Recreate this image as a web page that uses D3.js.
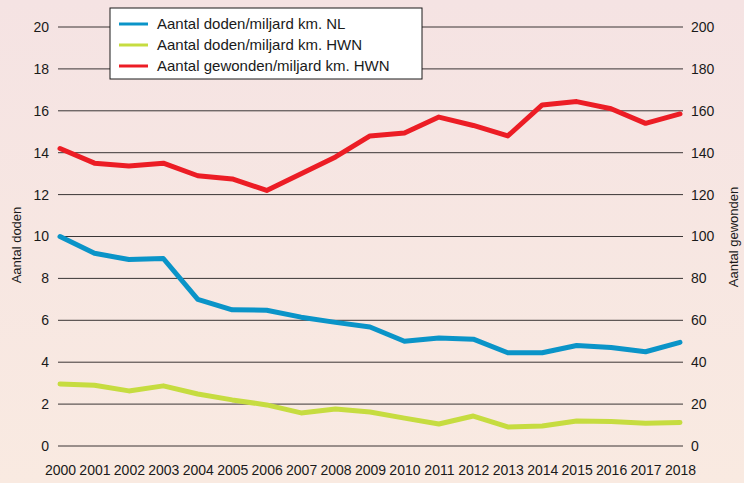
<!DOCTYPE html>
<html>
<head>
<meta charset="utf-8">
<script src="https://cdn.jsdelivr.net/npm/d3@7"></script>
<style>
  html, body { margin: 0; padding: 0; }
  body { width: 744px; height: 483px; overflow: hidden; }
</style>
</head>
<body>
<div id="chart"></div>
<script>
const years = [2000, 2001, 2002, 2003, 2004, 2005, 2006, 2007, 2008, 2009,
               2010, 2011, 2012, 2013, 2014, 2015, 2016, 2017, 2018];

// doden per miljard km, heel Nederland (linker as)
const dodenNL = [10.0, 9.2, 8.9, 8.95, 7.0, 6.5, 6.48, 6.15, 5.9, 5.68,
                 5.0, 5.15, 5.1, 4.45, 4.45, 4.8, 4.7, 4.5, 4.95];

// doden per miljard km, hoofdwegennet (linker as)
const dodenHWN = [2.96, 2.9, 2.63, 2.87, 2.48, 2.2, 1.96, 1.58, 1.77, 1.62,
                  1.33, 1.05, 1.43, 0.91, 0.95, 1.19, 1.17, 1.09, 1.12];

// gewonden per miljard km, hoofdwegennet (rechter as)
const gewondenHWN = [142, 135, 133.6, 135, 129, 127.5, 122, 130, 138, 148,
                     149.4, 157, 153, 148, 162.8, 164.4, 161, 154, 158.5];

const leftTicks = [0, 2, 4, 6, 8, 10, 12, 14, 16, 18, 20];
const rightTicks = [0, 20, 40, 60, 80, 100, 120, 140, 160, 180, 200];

const legendItems = [
  { label: "Aantal doden/miljard km. NL", color: "#0a94c8" },
  { label: "Aantal doden/miljard km. HWN", color: "#c6dc40" },
  { label: "Aantal gewonden/miljard km. HWN", color: "#ec1d25" }
];

const width = 744, height = 483;
const plotLeft = 58, plotRight = 683;

const svg = d3.select("#chart").append("svg")
  .attr("width", width)
  .attr("height", height);

// achtergrond met verloop
const defs = svg.append("defs");
const bg = defs.append("linearGradient")
  .attr("id", "bg").attr("x1", "0%").attr("y1", "0%").attr("x2", "0%").attr("y2", "100%");
bg.append("stop").attr("offset", "0%").attr("stop-color", "#f5e3e3");
bg.append("stop").attr("offset", "100%").attr("stop-color", "#f9eae1");
svg.append("rect").attr("width", width).attr("height", height).attr("fill", "url(#bg)");

const x = d3.scaleLinear().domain([2000, 2018]).range([60, 680]);
const yLeft = d3.scaleLinear().domain([0, 20]).range([446, 27]);
const yRight = d3.scaleLinear().domain([0, 200]).range([446, 27]);

const tickFont = "'Liberation Sans', Arial, sans-serif";

// rasterlijnen
svg.append("g").selectAll("line")
  .data(leftTicks)
  .join("line")
  .attr("x1", plotLeft).attr("x2", plotRight)
  .attr("y1", d => yLeft(d)).attr("y2", d => yLeft(d))
  .attr("stroke", "#3a3535").attr("stroke-width", 1);

// linker as
const leftAxis = svg.append("g")
  .attr("transform", `translate(${plotLeft},0)`)
  .call(d3.axisLeft(yLeft).tickValues(leftTicks).tickSize(0).tickPadding(9));
leftAxis.select(".domain").remove();
leftAxis.selectAll("text").style("font-family", tickFont).style("font-size", "14px").attr("fill", "#1a1a1a");

// rechter as
const rightAxis = svg.append("g")
  .attr("transform", `translate(${plotRight},0)`)
  .call(d3.axisRight(yRight).tickValues(rightTicks).tickSize(0).tickPadding(8));
rightAxis.select(".domain").remove();
rightAxis.selectAll("text").style("font-family", tickFont).style("font-size", "14px").attr("fill", "#1a1a1a");

// jaren onderaan
const bottomAxis = svg.append("g")
  .attr("transform", "translate(0,465)")
  .call(d3.axisBottom(x).tickValues(years).tickFormat(d3.format("d")).tickSize(0).tickPadding(0));
bottomAxis.select(".domain").remove();
bottomAxis.selectAll("text").style("font-family", tickFont).style("font-size", "14px").attr("fill", "#1a1a1a");

// astitels
svg.append("text")
  .attr("transform", "translate(21,245) rotate(-90)")
  .attr("text-anchor", "middle")
  .style("font-family", tickFont).style("font-size", "13px").attr("fill", "#1a1a1a")
  .text("Aantal doden");

svg.append("text")
  .attr("transform", "translate(738,237) rotate(-90)")
  .attr("text-anchor", "middle")
  .style("font-family", tickFont).style("font-size", "13px").attr("fill", "#1a1a1a")
  .text("Aantal gewonden");

// lijnen
const lineLeft = d3.line().x((d, i) => x(years[i])).y(d => yLeft(d));
const lineRight = d3.line().x((d, i) => x(years[i])).y(d => yRight(d));

const series = [
  { values: dodenHWN, gen: lineLeft, color: legendItems[1].color },
  { values: dodenNL, gen: lineLeft, color: legendItems[0].color },
  { values: gewondenHWN, gen: lineRight, color: legendItems[2].color }
];

svg.append("g").selectAll("path")
  .data(series)
  .join("path")
  .attr("d", s => s.gen(s.values))
  .attr("fill", "none")
  .attr("stroke", s => s.color)
  .attr("stroke-width", 5)
  .attr("stroke-linejoin", "round")
  .attr("stroke-linecap", "round");

// legenda
const legend = svg.append("g").attr("transform", "translate(110,8)");
legend.append("rect")
  .attr("width", 312).attr("height", 71)
  .attr("fill", "#ffffff").attr("stroke", "#1a1a1a").attr("stroke-width", 1);

const item = legend.selectAll(".item")
  .data(legendItems)
  .join("g")
  .attr("class", "item")
  .attr("transform", (d, i) => `translate(0,${16 + i * 21})`);

item.append("line")
  .attr("x1", 9).attr("x2", 38)
  .attr("stroke", d => d.color).attr("stroke-width", 3);

item.append("text")
  .attr("x", 47).attr("dy", "0.35em")
  .style("font-family", tickFont).style("font-size", "15px").attr("fill", "#1a1a1a")
  .text(d => d.label);
</script>
</body>
</html>
